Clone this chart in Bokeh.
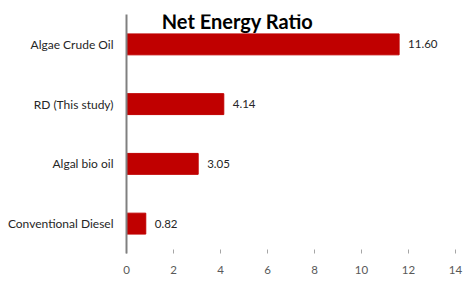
from bokeh.plotting import figure
from bokeh.models import ColumnDataSource, Label, FixedTicker, Range1d, FactorRange
from bokeh.core.properties import value
from bokeh.embed import file_html
from bokeh.resources import INLINE

categories = ["Conventional Diesel", "Algal bio oil", "RD (This study)", "Algae Crude Oil"]
ratios = [0.82, 3.05, 4.14, 11.60]
labels = ["0.82", "3.05", "4.14", "11.60"]
x_ticks = [0, 2, 4, 6, 8, 10, 12, 14]

src = ColumnDataSource(data=dict(cat=categories, val=ratios, lab=labels))

p = figure(width=464, height=281, output_backend="svg", toolbar_location=None,
           y_range=FactorRange(*categories), x_range=Range1d(0, 14),
           min_border_left=126, min_border_right=9, min_border_top=14, min_border_bottom=28)
p.outline_line_color = None
p.background_fill_color = "white"
p.border_fill_color = "white"
p.grid.visible = False

p.hbar(y="cat", right="val", left=0, height=0.35, source=src, color="#C00000")
p.text(x="val", y="cat", text="lab", source=src, x_offset=9, text_baseline="middle",
       text_font=value("Lato"), text_font_size="11.5px", text_color="#262626")

xa = p.xaxis[0]
xa.ticker = FixedTicker(ticks=x_ticks)
xa.axis_line_color = None
xa.major_tick_in = 4
xa.major_tick_out = 0
xa.major_tick_line_color = "#A6A6A6"
xa.minor_tick_line_color = None
xa.major_label_standoff = 12
xa.major_label_text_font = "Lato"
xa.major_label_text_font_size = "11.5px"
xa.major_label_text_color = "#595959"

ya = p.yaxis[0]
ya.axis_line_color = "#808080"
ya.axis_line_width = 2
ya.major_tick_line_color = None
ya.minor_tick_line_color = None
ya.major_label_standoff = 7
ya.major_label_text_font = "Lato"
ya.major_label_text_font_size = "12px"
ya.major_label_text_color = "#262626"

title = Label(x=111, y=233, x_units="screen", y_units="screen", text="Net Energy Ratio",
              text_font="Lato", text_font_style="bold", text_font_size="20px",
              text_align="center", text_baseline="middle", text_color="black")
p.add_layout(title)

open("out.html", "w").write(file_html(p, INLINE))
